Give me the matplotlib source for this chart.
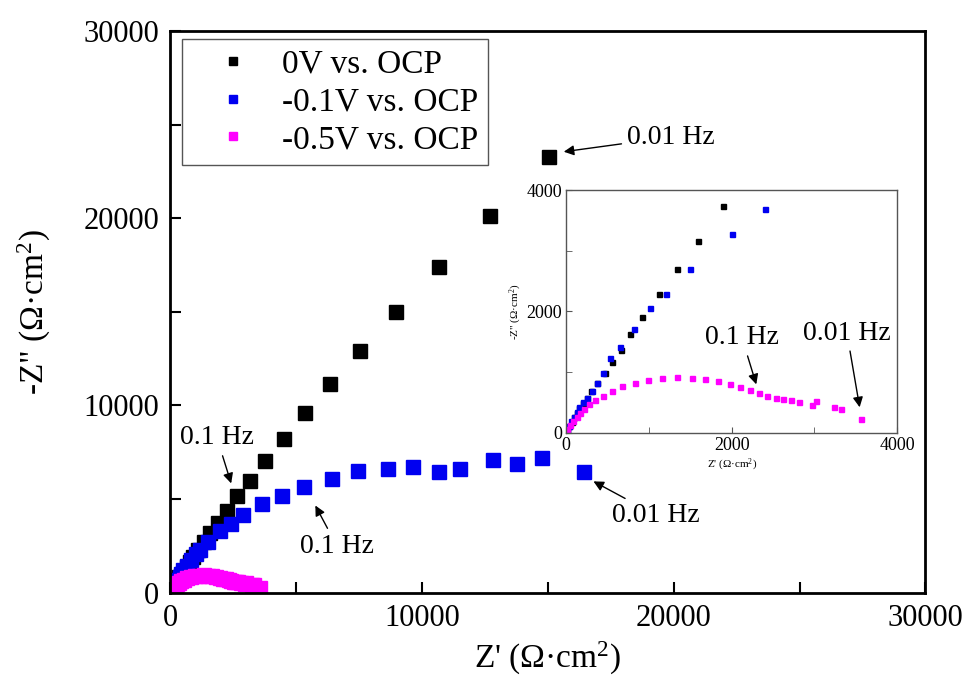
import matplotlib
matplotlib.use("Agg")
import matplotlib.pyplot as plt
from matplotlib.ticker import MultipleLocator

plt.rcParams['font.family'] = ['Liberation Serif', 'DejaVu Serif']
plt.rcParams['mathtext.fontset'] = 'custom'
plt.rcParams['mathtext.rm'] = 'Liberation Serif'
plt.rcParams['mathtext.it'] = 'Liberation Serif:italic'

# Nyquist data (ohm cm2)
black_x = [16, 40, 69, 97, 129, 161, 202, 250, 302, 371, 472, 556, 661, 774, 923, 1121, 1335, 1593,
           1895, 2265, 2662, 3178, 3774, 4529, 5364, 6357, 7549, 8979, 10687, 12714, 15058]
black_y = [44, 110, 181, 253, 330, 407, 495, 577, 692, 824, 978, 1159, 1357, 1626, 1907, 2291, 2698, 3165,
           3736, 4354, 5155, 5956, 7025, 8200, 9589, 11138, 12901, 14984, 17388, 20112, 23264]

blue_x = [14, 37, 65, 94, 126, 158, 200, 250, 310, 379, 444, 532, 657, 823, 1020, 1202, 1496, 2004,
          2407, 2900, 3655, 4450, 5324, 6436, 7469, 8661, 9654, 10687, 11522, 12833, 13786, 14779, 16448]
blue_y = [48, 118, 190, 262, 340, 418, 500, 577, 692, 824, 978, 1225, 1407, 1714, 2049, 2291, 2698, 3269,
          3687, 4140, 4728, 5155, 5636, 6063, 6490, 6597, 6704, 6437, 6597, 7078, 6864, 7185, 6437]

pink_x = [16, 48, 89, 129, 169, 218, 282, 351, 452, 552, 677, 831, 988, 1157, 1339, 1516, 1677, 1831,
          1976, 2105, 2222, 2327, 2431, 2532, 2621, 2718, 2819, 2976, 3016, 3242, 3327, 3569]
pink_y = [55, 126, 198, 264, 330, 396, 467, 533, 610, 692, 764, 824, 874, 901, 918, 907, 879, 846,
          802, 747, 703, 648, 610, 577, 555, 538, 505, 451, 522, 423, 385, 220]

labels = ['0V vs. OCP', '-0.1V vs. OCP', '-0.5V vs. OCP']
colors = ['#000000', '#0000f0', '#ff00ff']
series = [(black_x, black_y), (blue_x, blue_y), (pink_x, pink_y)]

fig = plt.figure(figsize=(9.66, 6.91), dpi=100)
ax = fig.add_axes([0.176, 0.1425, 0.782, 0.8126])

for (x, y), c, lab in zip(series, colors, labels):
    ax.plot(x, y, 's', color=c, markersize=10, label=lab, linestyle='none')

ax.set_xlim(0, 30000)
ax.set_ylim(0, 30000)
ax.xaxis.set_major_locator(MultipleLocator(10000))
ax.xaxis.set_minor_locator(MultipleLocator(5000))
ax.yaxis.set_major_locator(MultipleLocator(10000))
ax.yaxis.set_minor_locator(MultipleLocator(5000))
ax.tick_params(which='both', direction='in', width=1.5, labelsize=22)
ax.tick_params(which='major', length=8, pad=8)
ax.tick_params(which='minor', length=8)
for s in ax.spines.values():
    s.set_linewidth(2)

ax.set_xlabel("Z' (\u03a9\u00b7cm$^2$)", fontsize=24)
ax.set_ylabel('-Z" (\u03a9\u00b7cm$^2$)', fontsize=24)
ax.xaxis.set_label_coords(0.5, -0.085)
ax.yaxis.set_label_coords(-0.155, 0.5)

leg = ax.legend(loc='upper left', bbox_to_anchor=(0.0155, 0.986), borderaxespad=0,
                fontsize=24, markerscale=0.55, fancybox=False, framealpha=1,
                handletextpad=0.2, labelspacing=0.22, borderpad=0.3, handlelength=2.5)
leg.get_frame().set_edgecolor('#555555')
leg.get_frame().set_linewidth(1)

arrow = dict(arrowstyle='-|>', color='black', lw=1, mutation_scale=15)
ax.annotate('0.01 Hz', xy=(15528, 23531), xytext=(18149, 24332), fontsize=20,
            ha='left', va='center', arrowprops=arrow)
ax.annotate('0.1 Hz', xy=(2462, 5689), xytext=(397, 8264), fontsize=20,
            ha='left', va='center', arrowprops=arrow)
ax.annotate('0.1 Hz', xy=(5719, 4781), xytext=(5163, 2484), fontsize=20,
            ha='left', va='center', arrowprops=arrow)
ax.annotate('0.01 Hz', xy=(16719, 6010), xytext=(17554, 4140), fontsize=20,
            ha='left', va='center', arrowprops=arrow)

# inset
axin = fig.add_axes([0.586, 0.3738, 0.3427, 0.3512])
for (x, y), c in zip(series, colors):
    axin.plot(x, y, 's', color=c, markersize=3.6, linestyle='none')
axin.set_xlim(0, 4000)
axin.set_ylim(0, 4000)
axin.xaxis.set_major_locator(MultipleLocator(2000))
axin.xaxis.set_minor_locator(MultipleLocator(1000))
axin.yaxis.set_major_locator(MultipleLocator(2000))
axin.yaxis.set_minor_locator(MultipleLocator(1000))
axin.tick_params(which='both', direction='in', labelsize=13, color='#555555', length=4, pad=3)
for s in axin.spines.values():
    s.set_linewidth(1)
    s.set_edgecolor('#555555')
axin.set_xlabel("Z' (\u03a9\u00b7cm$^2$)", fontsize=8, labelpad=2)
axin.set_ylabel('-Z" (\u03a9\u00b7cm$^2$)', fontsize=8, labelpad=2)

axin.annotate('0.1 Hz', xy=(2308, 753), xytext=(1680, 1561), fontsize=20,
              ha='left', va='center', arrowprops=arrow)
axin.annotate('0.01 Hz', xy=(3553, 374), xytext=(2864, 1643), fontsize=20,
              ha='left', va='center', arrowprops=arrow)

fig.savefig('out.png', dpi=100)
